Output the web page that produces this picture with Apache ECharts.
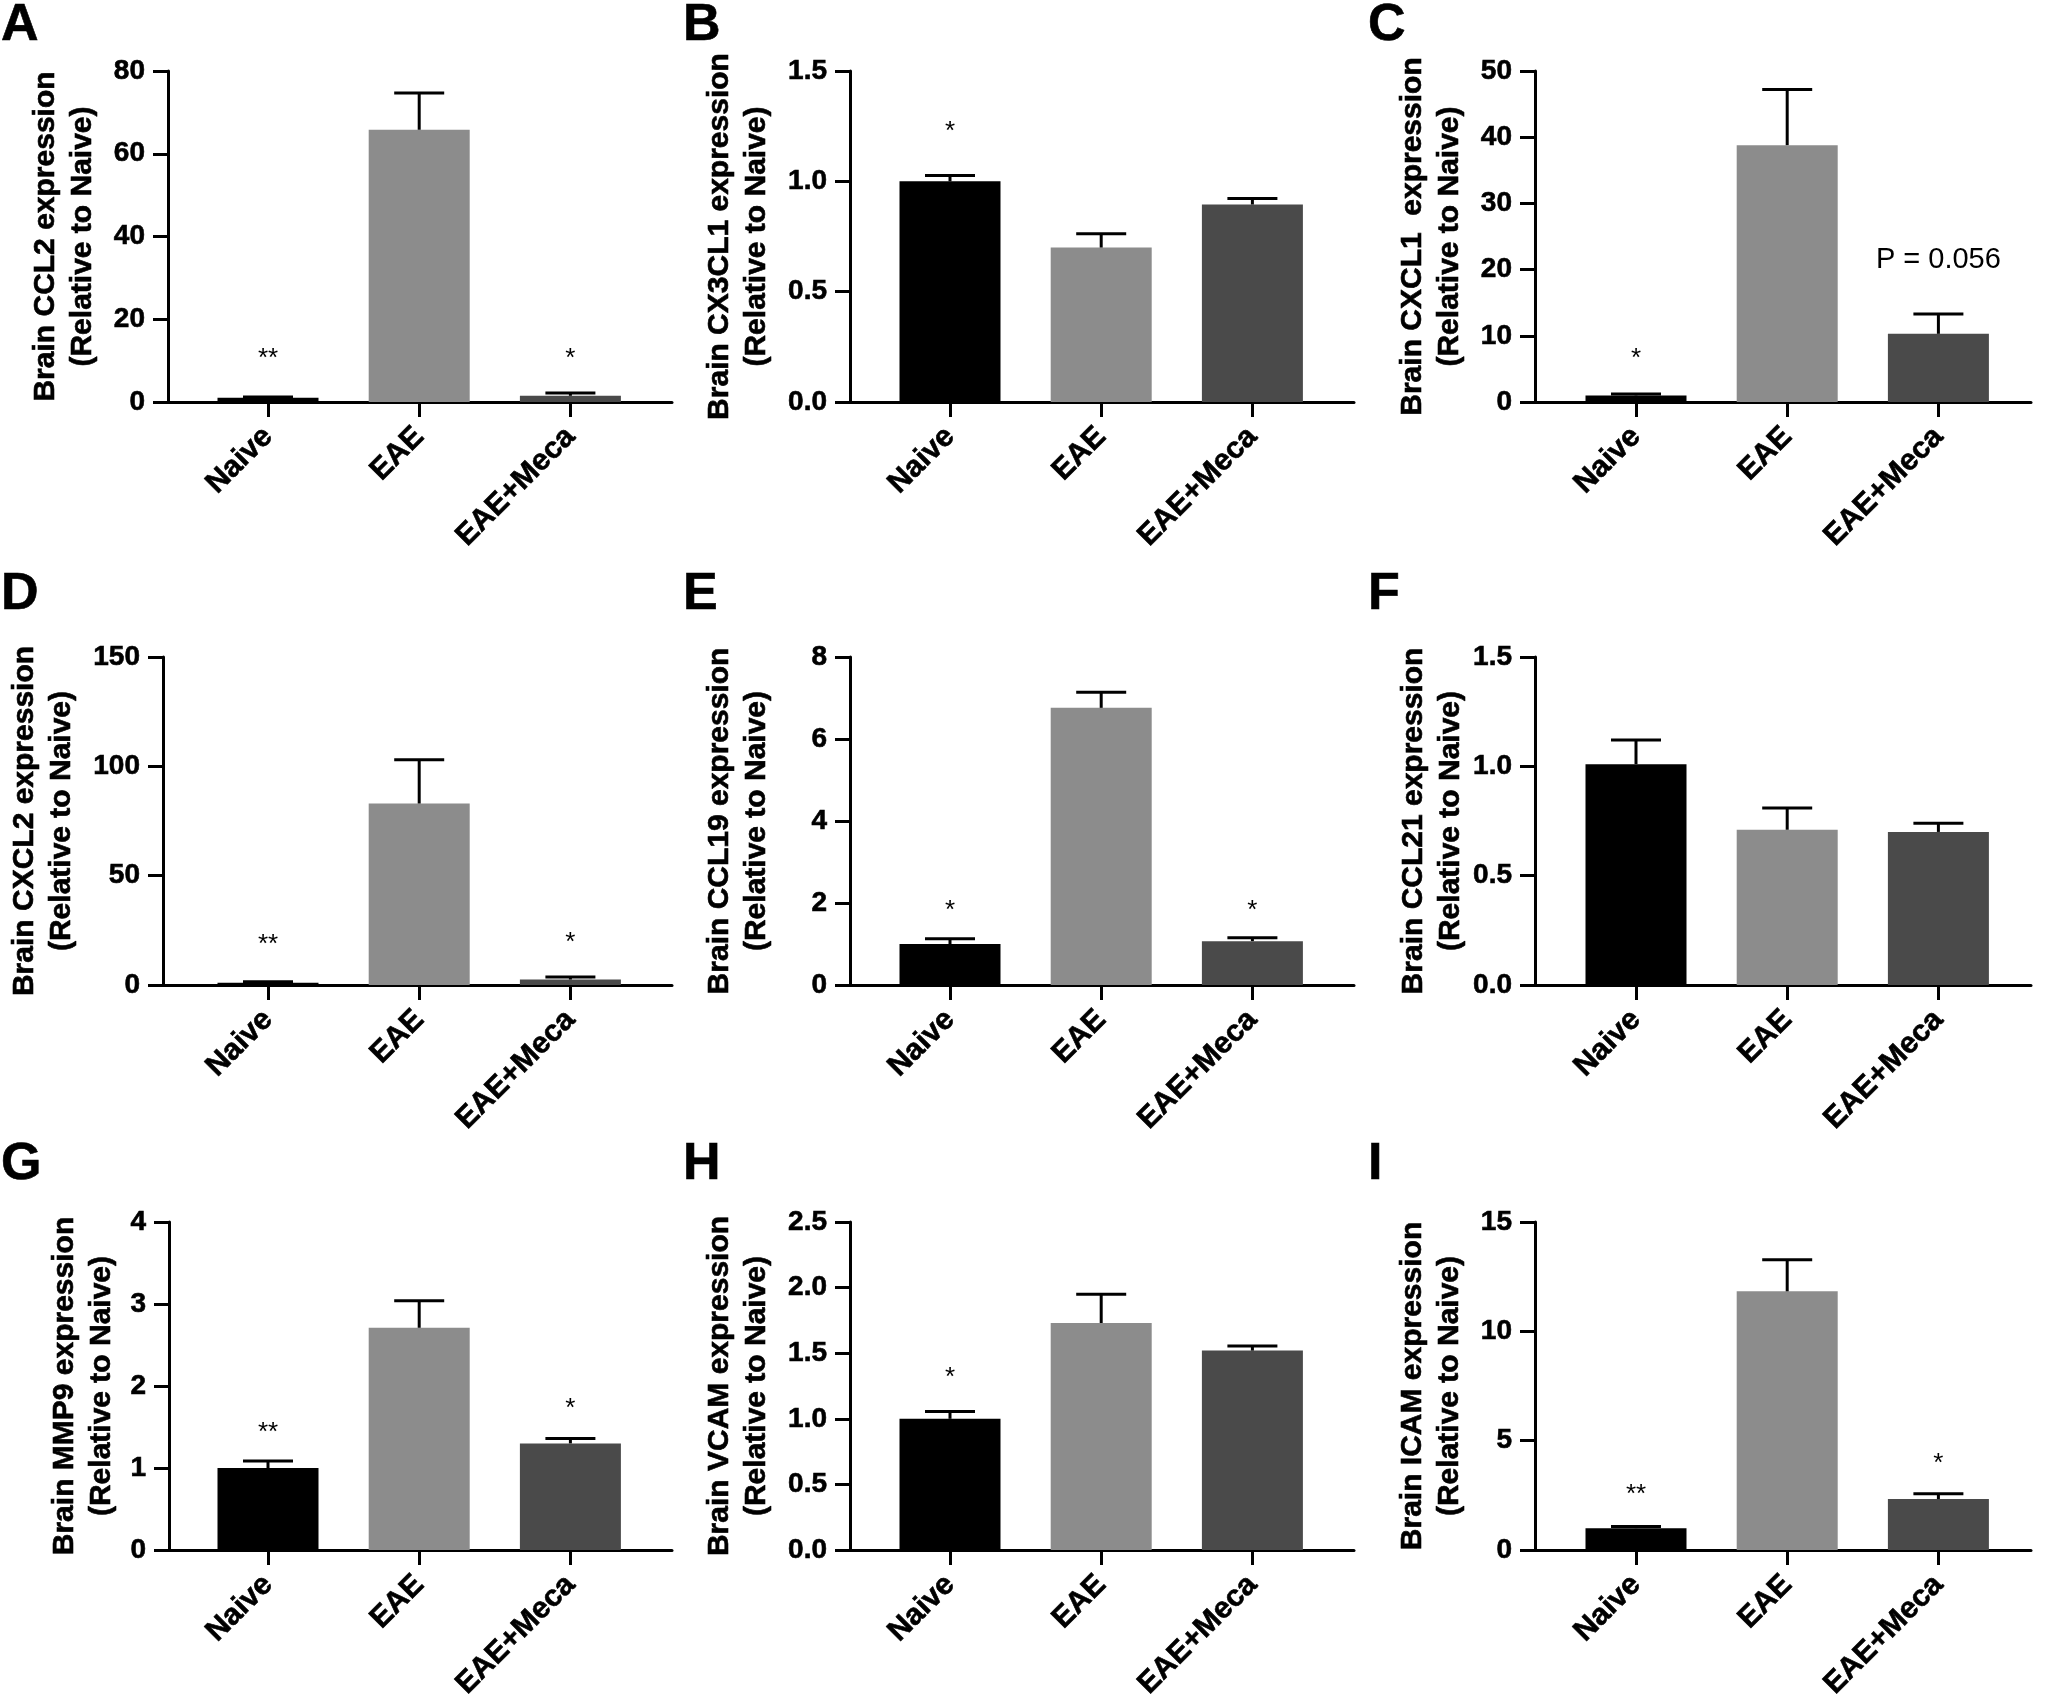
<!DOCTYPE html>
<html>
<head>
<meta charset="utf-8">
<script src="https://cdn.jsdelivr.net/npm/echarts@6/dist/echarts.min.js"></script>
<style>
  html, body { margin: 0; padding: 0; background: #fff; }
  #chart { width: 2047px; height: 1696px; }
</style>
</head>
<body>
<div id="chart"></div>
<script>
// ---------- data ----------
const categories = ['Naive', 'EAE', 'EAE+Meca'];
const barColors = ['#000000', '#8c8c8c', '#4a4a4a'];

const titleA = 'Brain CCL2 expression';
const titleB = 'Brain CX3CL1 expression';
const titleC = 'Brain CXCL1  expression';
const titleD = 'Brain CXCL2 expression';
const titleE = 'Brain CCL19 expression';
const titleF = 'Brain CCL21 expression';
const titleG = 'Brain MMP9 expression';
const titleH = 'Brain VCAM expression';
const titleI = 'Brain ICAM expression';
const titleLine2 = '(Relative to Naive)';

const ticksA = ['0', '20', '40', '60', '80'];
const ticksB = ['0.0', '0.5', '1.0', '1.5'];
const ticksC = ['0', '10', '20', '30', '40', '50'];
const ticksD = ['0', '50', '100', '150'];
const ticksE = ['0', '2', '4', '6', '8'];
const ticksF = ['0.0', '0.5', '1.0', '1.5'];
const ticksG = ['0', '1', '2', '3', '4'];
const ticksH = ['0.0', '0.5', '1.0', '1.5', '2.0', '2.5'];
const ticksI = ['0', '5', '10', '15'];

const meanA = [1.0, 65.8, 1.5];    const semA = [0.2, 8.9, 0.7];
const meanB = [1.0, 0.70, 0.895];  const semB = [0.027, 0.063, 0.027];
const meanC = [1.0, 38.8, 10.3];   const semC = [0.2, 8.4, 3.0];
const meanD = [1.0, 83.0, 2.5];    const semD = [0.5, 20.0, 1.2];
const meanE = [1.0, 6.76, 1.07];   const semE = [0.13, 0.38, 0.08];
const meanF = [1.01, 0.71, 0.70];  const semF = [0.11, 0.10, 0.04];
const meanG = [1.0, 2.71, 1.30];   const semG = [0.085, 0.33, 0.06];
const meanH = [1.0, 1.73, 1.52];   const semH = [0.055, 0.22, 0.035];
const meanI = [1.0, 11.83, 2.33];  const semI = [0.08, 1.44, 0.24];

// significance marks (text per category, and its height in axis units)
const marksA = ['**', '', '*'];  const markYA = [12, null, 12];
const marksB = ['*', '', ''];    const markYB = [1.25, null, null];
const marksC = ['*', '', 'P = 0.056']; const markYC = [7.5, null, 21.4];
const marksD = ['**', '', '*'];  const markYD = [21, null, 22];
const marksE = ['*', '', '*'];   const markYE = [1.95, null, 1.95];
const marksF = ['', '', ''];     const markYF = [null, null, null];
const marksG = ['**', '', '*'];  const markYG = [1.5, null, 1.8];
const marksH = ['*', '', ''];    const markYH = [1.36, null, null];
const marksI = ['**', '', '*'];  const markYI = [2.8, null, 4.2];

// ---------- layout / style ----------
const FONT = '"Liberation Sans", Arial, Helvetica, sans-serif';
const axisLeft  = [168, 850, 1535, 163, 850, 1535, 169, 850, 1535];
const axisRight = [672, 1354, 2031, 672, 1354, 2031, 672, 1354, 2031];
const firstCenter = [268, 950, 1636];
const unitPx = 151.2;
const rowTop = [71, 657, 1222];
const rowZero = [402, 985, 1550];
const nameGaps = [67, 75, 67, 83, 75, 66, 49, 75, 67];
const letterPos = [[1, 0], [683, 0], [1368, 0], [1, 569], [683, 569], [1368, 569], [1, 1139], [683, 1139], [1368, 1139]];

const panels = [
  ['A', titleA, ticksA, meanA, semA, marksA, markYA],
  ['B', titleB, ticksB, meanB, semB, marksB, markYB],
  ['C', titleC, ticksC, meanC, semC, marksC, markYC],
  ['D', titleD, ticksD, meanD, semD, marksD, markYD],
  ['E', titleE, ticksE, meanE, semE, marksE, markYE],
  ['F', titleF, ticksF, meanF, semF, marksF, markYF],
  ['G', titleG, ticksG, meanG, semG, marksG, markYG],
  ['H', titleH, ticksH, meanH, semH, marksH, markYH],
  ['I', titleI, ticksI, meanI, semI, marksI, markYI]
];

const grids = [], xAxes = [], yAxes = [], series = [], titles = [];
const lineStyle = { color: '#000', width: 3 };
const heavy = { textBorderColor: '#000', textBorderWidth: 0.6 };

panels.forEach((p, i) => {
  const [letter, title, ticks, mean, sem, marks, markY] = p;
  const col = i % 3, row = Math.floor(i / 3);
  const ymax = parseFloat(ticks[ticks.length - 1]);
  const step = parseFloat(ticks[1]);
  const xmin = 1 - (firstCenter[col] - axisLeft[i]) / unitPx;
  const xmax = 3 + (axisRight[i] - (firstCenter[col] + 2 * unitPx)) / unitPx;

  titles.push({
    text: letter, left: letterPos[i][0], top: letterPos[i][1], padding: 0,
    textStyle: Object.assign({ fontFamily: FONT, fontSize: 52, fontWeight: 'bold', color: '#000' }, heavy)
  });

  grids.push({
    left: axisLeft[i], top: rowTop[row], width: axisRight[i] - axisLeft[i], height: rowZero[row] - rowTop[row],
    containLabel: false, outerBoundsMode: 'none'
  });

  xAxes.push({
    gridIndex: i, type: 'value', min: xmin, max: xmax,
    splitLine: { show: false },
    axisLine: { show: true, onZero: false, lineStyle: lineStyle },
    axisTick: { show: true, length: 15, lineStyle: lineStyle, customValues: [1, 2, 3] },
    axisLabel: Object.assign({
      customValues: [1, 2, 3], rotate: 45, margin: 30,
      fontFamily: FONT, fontSize: 30, fontWeight: 'bold', color: '#000',
      formatter: (v) => categories[Math.round(v) - 1] || ''
    }, heavy)
  });

  yAxes.push({
    gridIndex: i, type: 'value', min: 0, max: ymax, interval: step,
    name: title + '\n' + titleLine2, nameLocation: 'middle', nameRotate: 90, nameGap: nameGaps[i],
    nameMoveOverlap: false,
    nameTextStyle: Object.assign({ fontFamily: FONT, fontSize: 30, fontWeight: 'bold', color: '#000', lineHeight: 37 }, heavy),
    splitLine: { show: false },
    axisLine: { show: true, onZero: false, lineStyle: lineStyle },
    axisTick: { show: true, length: 15, lineStyle: lineStyle },
    axisLabel: Object.assign({
      margin: 23, fontFamily: FONT, fontSize: 28, fontWeight: 'bold', color: '#000',
      formatter: (v) => ticks[Math.round(v / step)]
    }, heavy)
  });

  series.push({
    type: 'bar', xAxisIndex: i, yAxisIndex: i, barWidth: 101, silent: true,
    data: mean.map((m, j) => ({ value: [j + 1, m], itemStyle: { color: barColors[j] } }))
  });

  series.push({
    type: 'custom', xAxisIndex: i, yAxisIndex: i, silent: true, z: 5,
    encode: { x: 0, y: [1, 2] },
    data: mean.map((m, j) => [j + 1, m, m + sem[j]]),
    renderItem: (params, api) => {
      const p0 = api.coord([api.value(0), api.value(1)]);
      const p1 = api.coord([api.value(0), api.value(2)]);
      return {
        type: 'group', children: [
          { type: 'line', shape: { x1: p0[0], y1: p0[1], x2: p1[0], y2: p1[1] }, style: { stroke: '#000', lineWidth: 3 } },
          { type: 'line', shape: { x1: p1[0] - 25, y1: p1[1], x2: p1[0] + 25, y2: p1[1] }, style: { stroke: '#000', lineWidth: 3 } }
        ]
      };
    }
  });

  const markData = [], markText = [];
  marks.forEach((t, j) => { if (t) { markData.push([j + 1, markY[j]]); markText.push(t); } });
  if (markData.length) {
    series.push({
      type: 'custom', xAxisIndex: i, yAxisIndex: i, silent: true, z: 6,
      encode: { x: 0, y: 1 },
      data: markData,
      renderItem: (params, api) => {
        const t = markText[params.dataIndex];
        const isStar = /^\*+$/.test(t);
        const pt = api.coord([api.value(0), api.value(1)]);
        return {
          type: 'text',
          style: {
            text: t, x: pt[0], y: pt[1] + (isStar ? 6 : 0),
            align: 'center', verticalAlign: 'middle',
            fontFamily: FONT, fontSize: isStar ? 26 : 29, fontWeight: 'normal', fill: '#000'
          }
        };
      }
    });
  }
});

const chart = echarts.init(document.getElementById('chart'), null, { renderer: 'canvas' });
chart.setOption({
  backgroundColor: '#ffffff',
  animation: false,
  title: titles,
  grid: grids,
  xAxis: xAxes,
  yAxis: yAxes,
  series: series
});
</script>
</body>
</html>
